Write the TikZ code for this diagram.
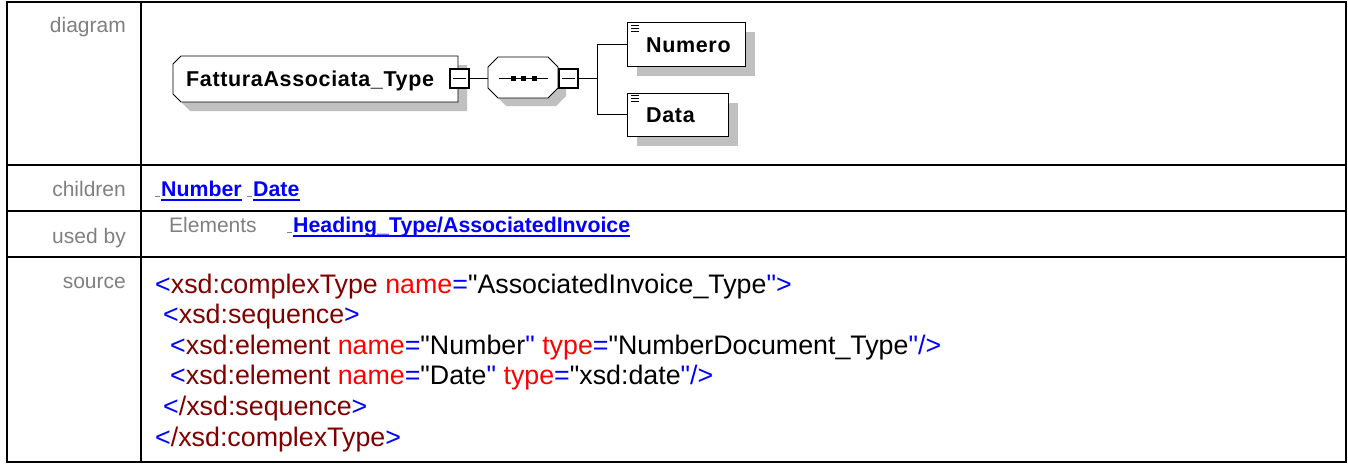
\documentclass[tikz,border=0pt]{standalone}
\usepackage{fontspec}
\setmainfont[Ligatures=TeXOff]{Liberation Sans}
\usetikzlibrary{calc,shadows}
\definecolor{lblgray}{HTML}{808080}
\definecolor{shgray}{HTML}{C0C0C0}
\definecolor{xblue}{HTML}{0000FF}
\definecolor{xmaroon}{HTML}{800000}
\definecolor{xred}{HTML}{FF0000}
\newcommand\xb[1]{\textcolor{xblue}{#1}}
\newcommand\xm[1]{\textcolor{xmaroon}{#1}}
\newcommand\xr[1]{\textcolor{xred}{#1}}
\newcommand\qq{\symbol{34}}
\begin{document}
\begin{tikzpicture}[x=1pt,y=1pt,
  tbl/.style={line width=2.2pt},
  lbl/.style={anchor=base east, text=lblgray, font=\fontsize{21}{24}\selectfont, inner sep=0pt},
  grayt/.style={anchor=base west, text=lblgray, font=\fontsize{21}{24}\selectfont, inner sep=0pt},
  lnk/.style={anchor=base west, text=xblue, font=\fontsize{21.3}{24}\selectfont\bfseries, inner sep=0pt},
  uline/.style={xblue, line width=2pt},
  tick/.style={lblgray, line width=0.8pt},
  src/.style={anchor=base west, font=\fontsize{26.8}{30}\selectfont, inner sep=0pt},
  dtxt/.style={anchor=base west, font=\fontsize{21.5}{24}\selectfont\bfseries\addfontfeature{LetterSpace=3}, inner sep=0pt},
  thin/.style={line width=0.9pt},
  minusbox/.style={draw, fill=white, line width=2pt, minimum size=19pt, inner sep=0pt,
    path picture={\draw[line width=1pt] ([xshift=3pt]path picture bounding box.west) -- ([xshift=-3pt]path picture bounding box.east);}},
  elem/.style={draw, fill=white, line width=0.9pt, inner sep=0pt, anchor=north west,
    drop shadow={shadow xshift=10pt, shadow yshift=-10pt, fill=shgray, opacity=1}},
  geom/.style={draw=none, inner sep=0pt, anchor=north west},
  icon/.style={line width=0.6pt}
]
\useasboundingbox (0,0) rectangle (1348,-463);
\fill[white] (0,0) rectangle (1348,-463);

% ---- table ----
\draw[tbl] (7,-1.7) rectangle (1346,-461.7);
\draw[tbl] (141,-1.7) -- (141,-461.7);
\draw[tbl] (7,-165) -- (1346,-165);
\draw[tbl] (7,-211) -- (1346,-211);
\draw[tbl] (7,-257) -- (1346,-257);

% ---- labels ----
\node[lbl] (ldiag) at (126,-32) {diagram};
\node[lbl] (lchild) at (126,-196) {children};
\node[lbl] (lused) at (126,-243) {used by};
\node[lbl] (lsrc) at (126,-288) {source};

% ---- children ----
\draw[tick] (155,-196) -- (160,-196);
\node[lnk] (cnum) at (161,-196) {Number};
\draw[uline] ($(cnum.base west)+(0,-3.5)$) -- ($(cnum.base east)+(0,-3.5)$);
\draw[tick] (247,-196) -- (252,-196);
\node[lnk] (cdat) at (253,-196) {Date};
\draw[uline] ($(cdat.base west)+(0,-3.5)$) -- ($(cdat.base east)+(0,-3.5)$);

% ---- used by ----
\node[grayt] (uelem) at (169,-232) {Elements};
\draw[tick] (287,-232) -- (292,-232);
\node[lnk] (uhead) at (293,-232) {Heading\_Type/AssociatedInvoice};
\draw[uline] ($(uhead.base west)+(0,-3.5)$) -- ($(uhead.base east)+(0,-3.5)$);

% ---- source ----
\node[src] (s1) at (155,-293) {\xb{<}\xm{xsd:complexType} \xr{name}\xb{=}\qq AssociatedInvoice\_Type\xb{\qq>}};
\node[src] (s2) at (163,-323) {\xb{<}\xm{xsd:sequence}\xb{>}};
\node[src] (s3) at (170,-354) {\xb{<}\xm{xsd:element} \xr{name}\xb{=}\qq Number\xb{\qq} \xr{type}\xb{=}\qq NumberDocument\_Type\xb{\qq/>}};
\node[src] (s4) at (170,-384) {\xb{<}\xm{xsd:element} \xr{name}\xb{=}\qq Date\xb{\qq} \xr{type}\xb{=}\qq xsd:date\xb{\qq/>}};
\node[src] (s5) at (163,-415) {\xb{<}\xm{/xsd:sequence}\xb{>}};
\node[src] (s6) at (155,-446) {\xb{<}\xm{/xsd:complexType}\xb{>}};

% ---- diagram ----
% complex type box
\node[geom, minimum width=285pt, minimum height=46pt] (fat) at (173,-56) {};
\fill[shgray] (190,-65) -- (467,-65) -- (467,-111) -- (190,-111) -- (182,-103) -- (182,-73) -- cycle;
\filldraw[fill=white, thin] (181,-56) -- (458,-56) -- (458,-102) -- (181,-102) -- (173,-94) -- (173,-64) -- cycle;
\node[dtxt] (fattxt) at (186,-86) {FatturaAssociata\_Type};
\node[minusbox] (m1) at (459.5,-78.5) {};

% sequence
\node[geom, minimum width=70pt, minimum height=41pt] (sq) at (488,-57) {};
\fill[shgray] (506,-65) -- (556,-65) -- (566,-75) -- (566,-96) -- (556,-106) -- (506,-106) -- (496,-96) -- (496,-75) -- cycle;
\filldraw[fill=white, thin] (498,-57) -- (548,-57) -- (558,-67) -- (558,-88) -- (548,-98) -- (498,-98) -- (488,-88) -- (488,-67) -- cycle;
\draw[thin] (499,-78.5) -- (548,-78.5);
\fill (511,-76.2) rectangle (516,-80.8);
\fill (521,-76.2) rectangle (526,-80.8);
\fill (531.5,-76.2) rectangle (536.5,-80.8);
\node[minusbox] (m2) at (568,-78.5) {};
\draw[thin] (m1.east) -- (m1.east -| sq.west);

% elements
\node[elem, minimum width=118pt, minimum height=44pt] (num) at (627,-22) {};
\node[elem, minimum width=101pt, minimum height=43.5pt] (dat) at (627,-92.5) {};
\coordinate (jn) at (597,-78.5);
\draw[thin] (m2.east) -- (jn);
\draw[thin] (jn) |- (num.west);
\draw[thin] (jn) |- (dat.west);
\foreach \b in {num,dat} {
  \foreach \d in {3,6,9} {
    \draw[icon] ($(\b.north west)+(4,-\d)$) -- ++(8,0);
  }
}
\node[dtxt] (numtxt) at (646,-52) {Numero};
\node[dtxt] (dattxt) at (646,-122) {Data};
\end{tikzpicture}
\end{document}
